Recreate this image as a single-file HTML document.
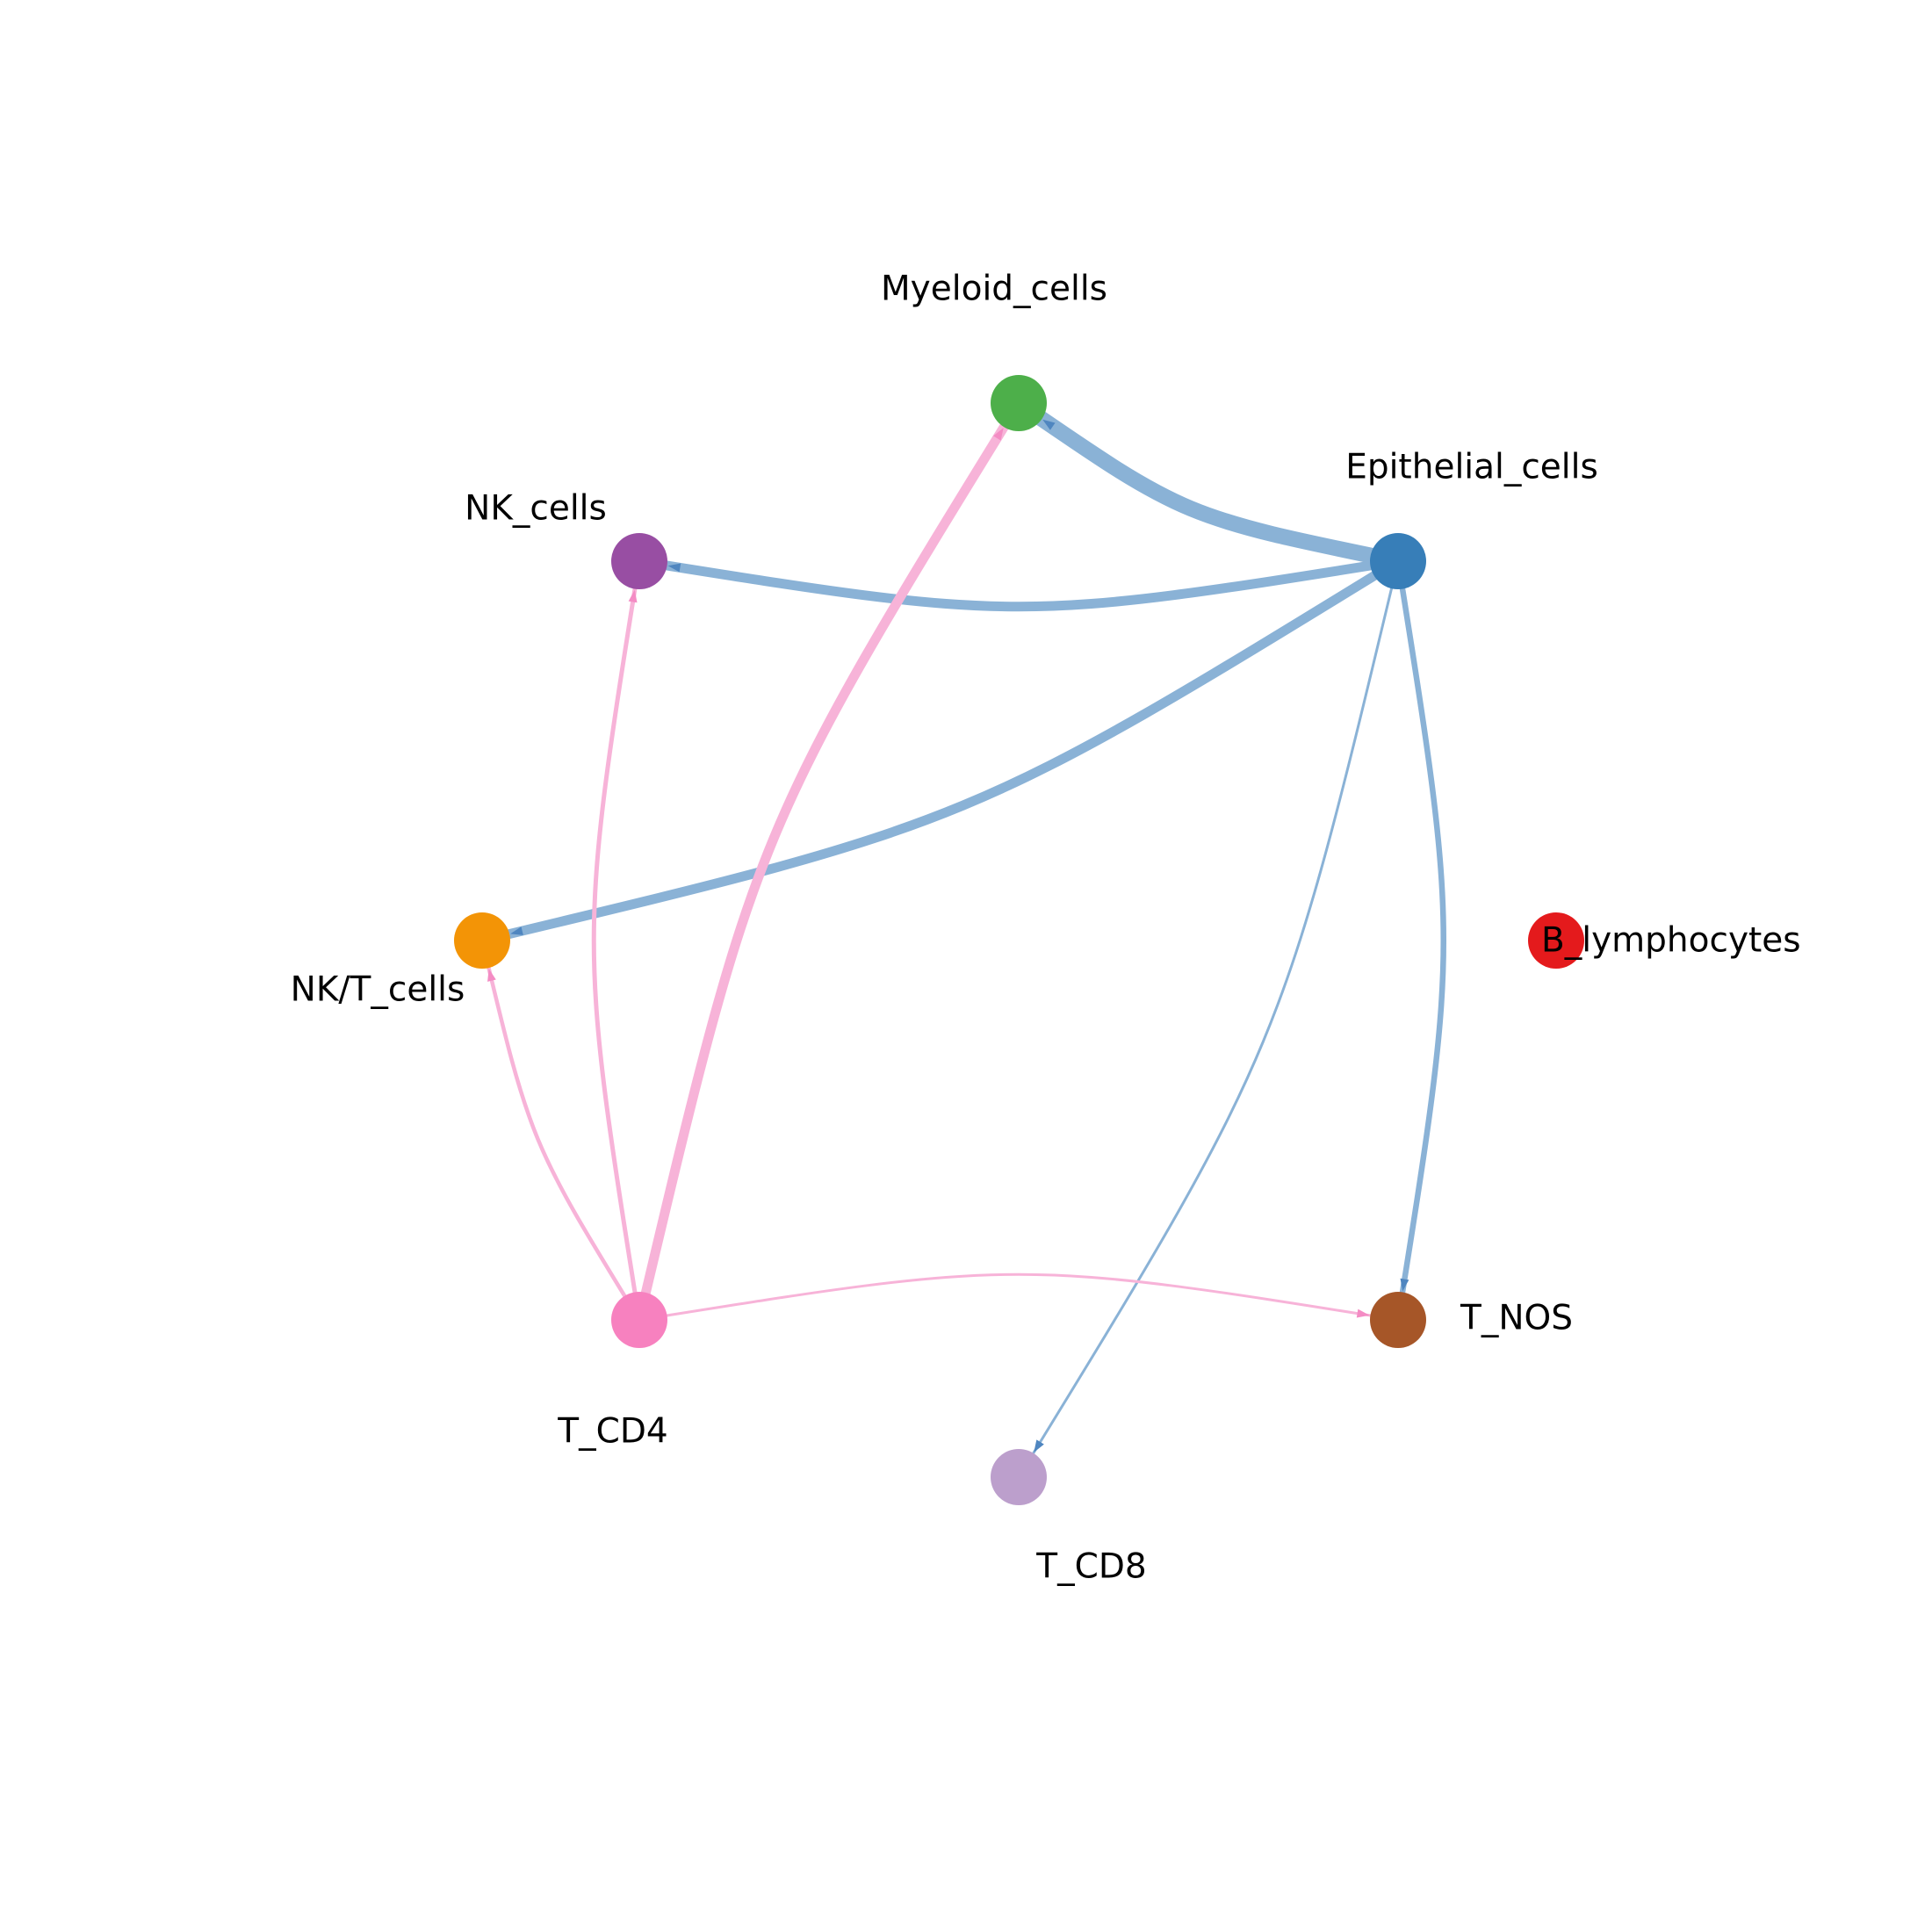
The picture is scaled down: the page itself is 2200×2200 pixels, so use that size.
<!DOCTYPE html>
<html><head><meta charset="utf-8"><style>
html,body{margin:0;padding:0;background:#fff;}
svg{display:block;}
text{font-family:"DejaVu Sans","Liberation Sans",sans-serif;font-size:39px;fill:#000;}
</style></head><body>
<svg width="2200" height="2200" viewBox="0 0 2200 2200" xmlns="http://www.w3.org/2000/svg">
<defs>
<marker id="ab" markerUnits="userSpaceOnUse" viewBox="-60 -10 70 20" refX="0" refY="0" markerWidth="70" markerHeight="20" orient="auto">
<polygon points="-33,0 -47,-5 -47,5" fill="#4f86c0"/></marker>
<marker id="ap" markerUnits="userSpaceOnUse" viewBox="-60 -10 70 20" refX="0" refY="0" markerWidth="70" markerHeight="20" orient="auto">
<polygon points="-33,0 -47,-5 -47,5" fill="#f48cc4"/></marker>
</defs>
<g fill="none" stroke-linecap="butt">
<path d="M1592,639 C1349,589 1349,589 1160,459" stroke="#8ab2d6" stroke-width="18" marker-end="url(#ab)"/>
<path d="M1592,639 C1160,708 1160,708 728,639" stroke="#8ab2d6" stroke-width="11" marker-end="url(#ab)"/>
<path d="M1592,639 C1105,938 1105,938 549,1071" stroke="#8ab2d6" stroke-width="11" marker-end="url(#ab)"/>
<path d="M1592,639 C1661,1071 1661,1071 1592,1503" stroke="#8ab2d6" stroke-width="6.5" marker-end="url(#ab)"/>
<path d="M1592,639 C1459,1195 1459,1195 1160,1682" stroke="#8ab2d6" stroke-width="3" marker-end="url(#ab)"/>
<path d="M728,1503 C860,946 860,946 1160,459" stroke="#f7b3d8" stroke-width="11" marker-end="url(#ap)"/>
<path d="M728,1503 C659,1071 659,1071 728,639" stroke="#f7b3d8" stroke-width="5" marker-end="url(#ap)"/>
<path d="M728,1503 C604,1301 604,1301 549,1071" stroke="#f7b3d8" stroke-width="4.5" marker-end="url(#ap)"/>
<path d="M728,1503 C1160,1434 1160,1434 1592,1503" stroke="#f7b3d8" stroke-width="3" marker-end="url(#ap)"/>
</g>
<circle cx="1160" cy="459" r="32" fill="#4daf4a"/>
<circle cx="1592" cy="639" r="32" fill="#377eb8"/>
<circle cx="728" cy="639" r="32" fill="#984ea3"/>
<circle cx="549" cy="1071" r="32" fill="#f39406"/>
<circle cx="1772" cy="1071" r="32" fill="#e41a1c"/>
<circle cx="728" cy="1503" r="32" fill="#f781bf"/>
<circle cx="1592" cy="1503" r="32" fill="#a65628"/>
<circle cx="1160" cy="1682" r="32" fill="#bc9fcc"/>
<g dominant-baseline="central">
<text x="1132" y="329" text-anchor="middle">Myeloid_cells</text>
<text x="1676" y="532" text-anchor="middle">Epithelial_cells</text>
<text x="610" y="579" text-anchor="middle">NK_cells</text>
<text x="430" y="1127" text-anchor="middle">NK/T_cells</text>
<text x="1755" y="1071">B_lymphocytes</text>
<text x="698" y="1630" text-anchor="middle">T_CD4</text>
<text x="1727" y="1501" text-anchor="middle">T_NOS</text>
<text x="1243" y="1784" text-anchor="middle">T_CD8</text>
</g>
</svg>
</body></html>
